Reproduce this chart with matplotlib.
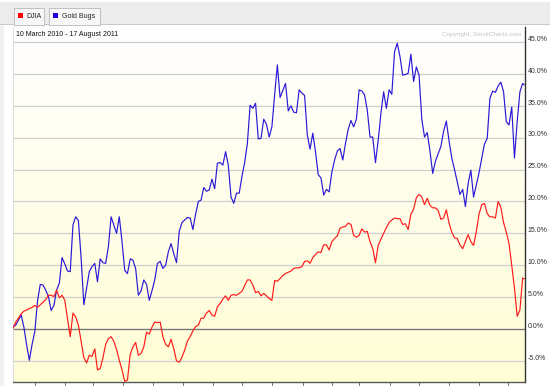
import numpy as np
import pandas as pd
import matplotlib
matplotlib.use("Agg")
import matplotlib.pyplot as plt
import matplotlib.transforms as mtrans
from matplotlib.patches import Rectangle

# ---------------- data ----------------
start_date = "2010-03-10"
end_date = "2011-08-17"
title_text = "10 March 2010 - 17 August 2011"
series_names = ["DJIA", "Gold Bugs"]
y_ticks = [-5, 0, 5, 10, 15, 20, 25, 30, 35, 40, 45]

# percent change since start, read every 2nd trading day (+ final day)
djia_pct = [
    0.1, 1.1, 1.7, 2.4, 2.8, 3.0, 3.2, 3.4, 3.7, 3.4,
    3.8, 4.2, 4.6, 5.3, 5.3, 5.1, 6.1, 4.9, 5.3, 4.5,
    1.7, -1.2, 2.5, 1.9, 0.6, -1.9, -4.5, -5.3, -4.1, -4.3,
    -3.1, -6.4, -6.2, -4.5, -2.4, -1.5, -1.2, -1.9, -3.2, -4.9,
    -6.4, -8.2, -8.0, -4.0, -2.8, -2.1, -4.1, -3.8, -2.8, -0.5,
    -0.8, 0.3, 1.1, 1.0, 1.1, -1.2, -2.4, -2.8, -1.6, -3.1,
    -5.0, -5.2, -4.4, -3.3, -1.9, -1.2, -0.3, 0.4, 0.6, 1.7,
    1.7, 2.5, 2.9, 2.2, 2.0, 3.5, 4.0, 4.7, 5.2, 4.5,
    5.3, 5.4, 5.3, 5.6, 5.9, 6.8, 7.7, 7.7, 6.9, 5.7,
    5.9, 5.2, 5.6, 5.2, 4.8, 4.5, 7.6, 7.5, 7.9, 8.4,
    8.7, 8.9, 9.1, 9.5, 9.6, 9.6, 9.8, 10.6, 10.7, 10.3,
    11.2, 11.7, 12.1, 12.0, 13.2, 13.2, 12.4, 13.7, 14.2, 14.6,
    15.8, 16.0, 16.1, 16.6, 16.4, 14.7, 14.4, 14.7, 15.7, 15.2,
    15.3, 13.7, 12.6, 10.4, 13.1, 14.1, 15.0, 15.9, 16.7, 17.1,
    17.4, 17.3, 17.3, 16.4, 16.5, 15.6, 18.0, 18.8, 20.6, 21.1,
    20.7, 19.5, 20.5, 19.4, 19.0, 19.0, 18.6, 17.2, 17.4, 18.7,
    16.6, 15.2, 14.3, 14.2, 13.2, 12.6, 13.7, 14.8, 13.7, 13.1,
    15.3, 18.0, 19.5, 19.7, 18.1, 17.6, 17.6, 17.4, 20.0, 19.1,
    16.7, 15.2, 13.4, 10.0, 6.4, 2.0, 3.0, 8.0, 7.9,
]

gold_pct = [
    0.4, 0.6, 1.4, 2.2, 0.3, -2.5, -4.9, -2.4, -0.4, 4.4,
    7.0, 6.9, 6.1, 5.1, 2.9, 3.7, 6.1, 7.2, 11.2, 10.2,
    9.1, 9.0, 16.3, 17.6, 17.0, 11.1, 3.8, 6.4, 9.0, 9.8,
    10.3, 7.4, 11.0, 10.4, 10.3, 12.9, 17.6, 16.3, 15.0, 17.6,
    13.7, 9.2, 8.7, 11.0, 10.8, 9.5, 5.3, 6.0, 7.7, 7.0,
    4.5, 6.0, 7.7, 10.3, 10.6, 9.5, 10.0, 12.1, 13.4, 11.8,
    10.4, 15.3, 16.7, 17.1, 17.5, 17.4, 15.6, 18.0, 20.0, 20.2,
    22.2, 21.6, 21.8, 23.5, 22.0, 26.0, 26.1, 25.7, 27.8, 25.7,
    20.7, 19.7, 21.3, 21.3, 23.9, 26.1, 29.1, 35.1, 34.6, 35.4,
    29.8, 29.9, 32.9, 32.1, 30.1, 31.7, 36.7, 41.4, 36.3, 37.4,
    38.5, 34.2, 35.0, 34.0, 33.9, 37.5, 37.0, 36.6, 30.4, 28.2,
    30.7, 27.8, 24.2, 23.7, 21.0, 21.9, 21.5, 24.6, 26.5, 27.9,
    28.3, 26.5, 29.1, 31.3, 32.7, 31.7, 32.9, 37.5, 37.3, 36.7,
    34.3, 30.1, 30.1, 26.1, 29.6, 33.8, 37.2, 34.6, 37.5, 36.8,
    43.5, 44.8, 42.7, 39.8, 39.9, 40.1, 43.1, 38.8, 41.1, 39.8,
    32.9, 30.1, 30.8, 27.9, 24.4, 26.3, 27.5, 28.6, 31.0, 32.6,
    29.5, 26.8, 25.0, 23.1, 21.1, 21.9, 19.2, 22.8, 24.9, 20.7,
    22.6, 24.5, 26.8, 29.0, 29.9, 36.2, 37.3, 37.1, 38.1, 38.7,
    37.2, 32.5, 32.0, 34.8, 26.8, 32.5, 37.2, 38.5, 38.3,
]

series_colors = ["#ff1a1a", "#2a18d8"]

# ---------------- layout ----------------
W, H = 550, 386
fig = plt.figure(figsize=(W / 100, H / 100), dpi=100)
fig.patch.set_facecolor("white")
plt.rcParams["font.family"] = ["Liberation Sans", "DejaVu Sans"]

def px_rect(x0, y0, x1, y1, **kw):
    r = Rectangle((x0 / W, 1 - y1 / H), (x1 - x0) / W, (y1 - y0) / H,
                  transform=fig.transFigure, **kw)
    fig.add_artist(r)
    return r

# header band
px_rect(0, 2, W, 24.5, facecolor="#ececec", edgecolor="none", zorder=0)
px_rect(0, 24, W, 25, facecolor="#c9c9c9", edgecolor="none", zorder=0)
# left border strip
px_rect(0, 25, 4, H, facecolor="#f1f1f1", edgecolor="none", zorder=0)

# legend tabs
tab_specs = [(13.5, 44), (48.5, 100)]
for (x0, x1), name, col in zip(tab_specs, series_names, series_colors):
    px_rect(x0, 8, x1, 24.5, facecolor="#f7f7f7", edgecolor="#b8b8b8",
            linewidth=0.6, zorder=1)
    px_rect(x0 + 4.5, 13, x0 + 9.5, 18, facecolor=("#ff0000" if col == series_colors[0] else "#1a00e0"),
            edgecolor="none", zorder=2)
    fig.text((x0 + 13) / W, 1 - 16 / H, name, fontsize=5, color="#222222",
             va="center", ha="left", zorder=3)

# ---------------- axes ----------------
left_px, right_px, top_px, bottom_px = 13, 525, 27, 382
ax = fig.add_axes([left_px / W, 1 - bottom_px / H,
                   (right_px - left_px) / W, (bottom_px - top_px) / H])

trading_days = pd.bdate_range(start_date, end_date)
n = len(trading_days)
sample_idx = list(range(0, n - 1, 2)) + [n - 1]

# background gradient (white -> pale yellow)
grad = np.linspace(0, 1, 256).reshape(-1, 1)
top_c = np.array([255, 255, 255]) / 255
bot_c = np.array([255, 253, 212]) / 255
img = top_c + (bot_c - top_c) * grad[..., None]
ax.imshow(img, extent=[0, 1, 0, 1], transform=ax.transAxes, aspect="auto",
          zorder=0, origin="upper")

y_min, y_max = -8.3, 47.35
ax.set_xlim(0, (n - 1) * 512 / 511)
ax.set_ylim(y_min, y_max)

for v in y_ticks:
    ax.axhline(v, color=("#7a7a7a" if v == 0 else "#cfcfcf"),
               lw=(1.0 if v == 0 else 0.9), zorder=1)

ax.plot(sample_idx, gold_pct, color=series_colors[1], lw=0.85, zorder=3)
ax.plot(sample_idx, djia_pct, color=series_colors[0], lw=0.85, zorder=4)

# right labels
lab_trans = ax.get_yaxis_transform() + mtrans.ScaledTranslation(2.5 / 100, 1.2 / 100, fig.dpi_scale_trans)
for v in y_ticks:
    ax.text(1.0, v, f"{v:.1f}%", transform=lab_trans, fontsize=5,
            color="#333333", ha="left", va="baseline", clip_on=False)
ax.set_yticks([])

# month ticks at bottom
month_start = [i for i in range(1, n) if trading_days[i].month != trading_days[i - 1].month]
ax.set_xticks(month_start)
ax.set_xticklabels([])
ax.tick_params(axis="x", direction="out", length=3, width=0.7, color="#777777")

for s in ["top"]:
    ax.spines[s].set_visible(False)
ax.spines["left"].set_color("#dddddd")
ax.spines["left"].set_linewidth(0.8)
ax.spines["right"].set_color("#333333")
ax.spines["right"].set_linewidth(1.0)
ax.spines["bottom"].set_color("#555555")
ax.spines["bottom"].set_linewidth(1.0)

# title and copyright
ax.text(3 / 512, 1 - 7.5 / 355, title_text, transform=ax.transAxes, fontsize=5,
        color="#111111", ha="left", va="center", zorder=5)
ax.text(1 - 3 / 512, 1 - 7.5 / 355, "Copyright, StockCharts.com", transform=ax.transAxes,
        fontsize=4.6, color="#c4c4c4", ha="right", va="center", zorder=5)

fig.savefig("out.png", dpi=100)
